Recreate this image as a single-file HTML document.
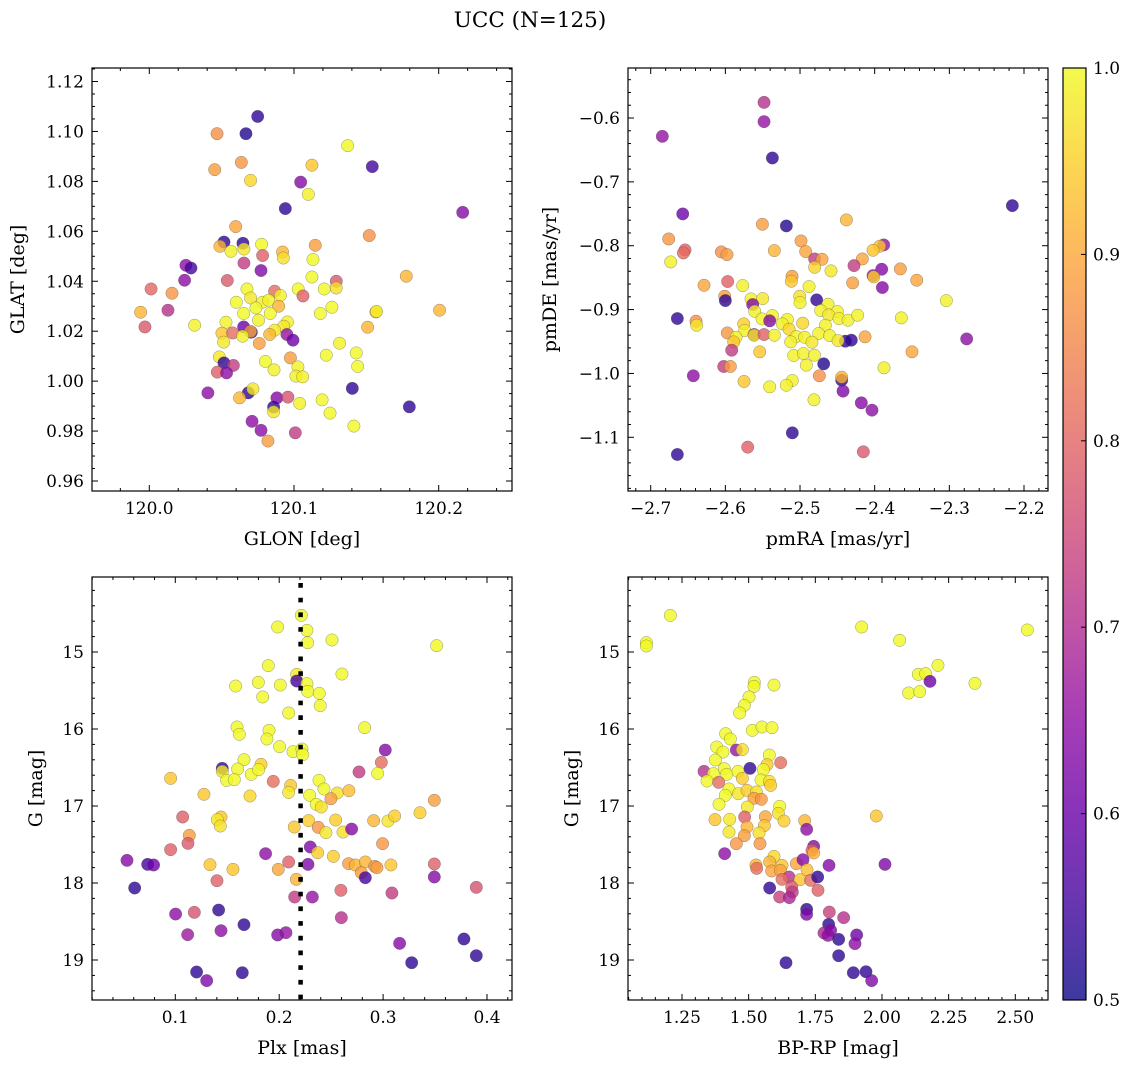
<!DOCTYPE html>
<html><head><meta charset="utf-8"><style>
body{margin:0;background:#fff;}
svg text{font-family:"DejaVu Serif","Liberation Serif",serif;fill:#000;}
</style></head><body>
<svg id="fig" width="1136" height="1067" viewBox="0 0 1136 1067" xmlns="http://www.w3.org/2000/svg">
<rect width="1136" height="1067" fill="#fff"/>
<text x="530" y="27" font-size="21.5" text-anchor="middle">UCC (N=125)</text>
<defs><linearGradient id="plasma" x1="0" y1="1" x2="0" y2="0">
<stop offset="0" stop-color="#0d0887"/><stop offset="0.1" stop-color="#41049d"/><stop offset="0.2" stop-color="#6a00a8"/><stop offset="0.3" stop-color="#8f0da4"/><stop offset="0.4" stop-color="#b12a90"/><stop offset="0.5" stop-color="#cc4778"/><stop offset="0.6" stop-color="#e16462"/><stop offset="0.7" stop-color="#f2844b"/><stop offset="0.8" stop-color="#fca636"/><stop offset="0.9" stop-color="#fcce25"/><stop offset="1" stop-color="#f0f921"/></linearGradient></defs>
<g id="cbar">
<rect x="1063" y="68" width="23" height="932" fill="url(#plasma)" opacity="0.8"/>
<rect x="1063" y="68" width="23" height="932" fill="none" stroke="#000" stroke-width="1.2"/>
</g>
</svg>
<script>
const glon=[120.0749,120.0468,120.0668,120.1371,120.0636,120.0452,120.1124,120.1541,120.0700,120.1046,120.1099,120.0940,120.2166,120.0597,120.1520,120.0516,120.0647,120.0488,120.0776,120.1147,120.0564,120.0654,120.0921,120.0926,120.0783,120.1131,120.0654,120.0253,120.0288,120.0772,120.0244,120.0539,120.1124,120.1292,120.1776,120.0012,120.0157,120.0675,120.0866,120.1029,120.1209,120.1292,120.1062,120.0906,120.0601,120.0700,120.0783,120.0825,120.0894,120.0737,120.1262,119.9940,120.0129,120.1566,120.1570,120.2006,120.0652,120.0836,120.1182,120.0755,119.9970,120.0313,120.0530,120.0954,120.0929,120.0652,120.0866,120.1509,120.0502,120.0576,120.0705,120.0700,120.0832,120.0951,120.0645,120.0993,120.0514,120.0760,120.1315,120.1223,120.1430,120.0484,120.0975,120.0516,120.0581,120.0802,120.1027,120.1440,120.0862,120.0470,120.0534,120.1013,120.1060,120.1403,120.0684,120.0716,120.0405,120.0624,120.0882,120.0958,120.1039,120.1194,120.1797,120.0859,120.0859,120.1249,120.0710,120.1414,120.0772,120.1009,120.0820];
const glat=[1.106,1.0991,1.0991,1.0943,1.0876,1.0847,1.0865,1.0859,1.0804,1.0797,1.0748,1.0691,1.0676,1.0619,1.0583,1.0557,1.0552,1.054,1.0548,1.0544,1.052,1.0529,1.0517,1.0493,1.0503,1.0487,1.0473,1.0464,1.0453,1.0443,1.0404,1.0403,1.0417,1.04,1.042,1.0369,1.0352,1.0369,1.036,1.0369,1.0369,1.0373,1.0341,1.0343,1.0316,1.0333,1.0316,1.0324,1.03,1.0293,1.0296,1.0276,1.0284,1.0277,1.0279,1.0284,1.0271,1.0271,1.0271,1.0244,1.0217,1.0224,1.0236,1.0237,1.022,1.0217,1.0204,1.0216,1.0192,1.0193,1.0196,1.0199,1.0187,1.0187,1.018,1.0164,1.0156,1.0151,1.0152,1.0104,1.0113,1.0097,1.0093,1.0073,1.0063,1.0079,1.0057,1.0059,1.0045,1.0036,1.0033,1.002,1.0017,0.9971,0.9953,0.9969,0.9953,0.9933,0.9933,0.9936,0.9911,0.9925,0.9897,0.9896,0.9877,0.9872,0.9839,0.982,0.9803,0.9793,0.976];
const prob1=[0.53,0.85,0.52,0.98,0.86,0.87,0.92,0.55,0.94,0.63,0.97,0.53,0.63,0.88,0.85,0.53,0.53,0.9,0.98,0.87,0.97,0.96,0.9,0.95,0.78,0.98,0.72,0.64,0.55,0.62,0.64,0.77,0.98,0.77,0.9,0.79,0.86,0.98,0.8,0.98,0.98,0.95,0.78,0.97,0.98,0.96,0.97,0.97,0.9,0.98,0.98,0.9,0.7,0.9,0.97,0.9,0.98,0.98,0.98,0.97,0.77,0.97,0.97,0.97,0.96,0.6,0.96,0.9,0.92,0.8,0.53,0.88,0.9,0.65,0.97,0.6,0.96,0.87,0.97,0.98,0.98,0.96,0.87,0.53,0.72,0.98,0.97,0.98,0.97,0.78,0.64,0.97,0.97,0.53,0.53,0.96,0.64,0.9,0.63,0.76,0.97,0.98,0.53,0.53,0.96,0.98,0.64,0.98,0.64,0.72,0.87];
const pmra=[-2.5482,-2.5482,-2.6844,-2.537,-2.2156,-2.6571,-2.4379,-2.5504,-2.5183,-2.6759,-2.4987,-2.3879,-2.3933,-2.4022,-2.654,-2.6562,-2.5344,-2.6054,-2.5978,-2.4924,-2.4804,-2.4705,-2.6732,-2.4165,-2.4277,-2.4804,-2.4585,-2.3906,-2.4022,-2.4013,-2.3656,-2.3437,-2.3897,-2.5107,-2.5116,-2.4295,-2.5969,-2.6286,-2.5768,-2.4879,-2.6009,-2.6,-2.5656,-2.55,-2.5004,-2.5,-2.4777,-2.304,-2.4625,-2.5634,-2.5607,-2.4723,-2.45,-2.6643,-2.6393,-2.6384,-2.5509,-2.537,-2.5406,-2.4616,-2.4478,-2.4357,-2.4228,-2.3643,-2.517,-2.5237,-2.4964,-2.4661,-2.5754,-2.5741,-2.5147,-2.5973,-2.5616,-2.5616,-2.5482,-2.5344,-2.475,-2.4603,-2.5857,-2.5888,-2.5049,-2.4938,-2.484,-2.5125,-2.4393,-2.4313,-2.4491,-2.4129,-2.5915,-2.554,-2.5085,-2.4955,-2.4808,-2.35,-2.6022,-2.5933,-2.4915,-2.4683,-2.3875,-2.2768,-2.6429,-2.4741,-2.4442,-2.4442,-2.575,-2.5103,-2.5183,-2.5406,-2.4424,-2.4813,-2.4179,-2.4036,-2.5103,-2.5701,-2.4152,-2.6643];
const pmde=[-0.5755,-0.6057,-0.6287,-0.6626,-0.7372,-0.7502,-0.7596,-0.7664,-0.769,-0.7894,-0.7925,-0.7987,-0.8008,-0.8071,-0.8066,-0.8113,-0.8076,-0.8097,-0.8139,-0.8092,-0.8207,-0.8212,-0.8254,-0.8207,-0.8311,-0.8337,-0.8394,-0.8368,-0.8467,-0.8488,-0.8363,-0.854,-0.8655,-0.8478,-0.8556,-0.8582,-0.8561,-0.8619,-0.8624,-0.864,-0.8791,-0.8859,-0.8833,-0.8828,-0.8791,-0.889,-0.8848,-0.8859,-0.8916,-0.8921,-0.9026,-0.9015,-0.9031,-0.914,-0.9182,-0.9245,-0.9146,-0.9093,-0.9176,-0.9083,-0.914,-0.9166,-0.9088,-0.913,-0.9156,-0.9224,-0.9213,-0.9245,-0.9224,-0.9328,-0.9307,-0.9365,-0.9391,-0.9401,-0.9391,-0.9401,-0.9375,-0.9407,-0.9433,-0.9506,-0.9422,-0.9433,-0.9511,-0.9506,-0.9495,-0.9479,-0.9485,-0.9427,-0.9636,-0.9662,-0.9719,-0.9688,-0.9714,-0.9662,-0.9891,-0.9891,-0.987,-0.985,-0.9912,-0.9459,-1.0037,-1.0037,-1.0105,-1.0058,-1.0126,-1.0111,-1.0184,-1.021,-1.0277,-1.0413,-1.046,-1.0575,-1.093,-1.1154,-1.1227,-1.1269];
const prob2=[0.7,0.65,0.65,0.53,0.53,0.6,0.9,0.87,0.52,0.86,0.87,0.65,0.92,0.92,0.78,0.8,0.9,0.85,0.87,0.88,0.72,0.88,0.97,0.88,0.72,0.94,0.96,0.63,0.65,0.93,0.87,0.88,0.63,0.87,0.92,0.87,0.78,0.88,0.97,0.97,0.87,0.53,0.97,0.96,0.95,0.97,0.53,0.97,0.97,0.63,0.97,0.97,0.97,0.53,0.85,0.96,0.97,0.97,0.63,0.96,0.97,0.97,0.97,0.97,0.97,0.97,0.94,0.97,0.93,0.97,0.94,0.86,0.63,0.96,0.78,0.97,0.97,0.97,0.97,0.92,0.97,0.97,0.96,0.97,0.53,0.53,0.96,0.88,0.72,0.92,0.97,0.97,0.97,0.88,0.72,0.87,0.97,0.52,0.97,0.64,0.64,0.85,0.53,0.9,0.92,0.97,0.97,0.97,0.62,0.97,0.63,0.64,0.53,0.78,0.77,0.53];
const plx=[0.2213,0.1985,0.2267,0.2274,0.2508,0.3515,0.1895,0.2604,0.2168,0.2168,0.2267,0.1581,0.1799,0.2011,0.2274,0.2386,0.1841,0.2395,0.2091,0.1594,0.1616,0.1902,0.1882,0.2822,0.2004,0.2133,0.2219,0.2226,0.3021,0.2983,0.1661,0.1825,0.1452,0.1452,0.16,0.1731,0.1802,0.2768,0.2948,0.0955,0.1494,0.1568,0.1943,0.211,0.2091,0.2383,0.2431,0.2559,0.2671,0.1276,0.1719,0.2293,0.2498,0.2357,0.2405,0.3493,0.1071,0.144,0.1404,0.1433,0.2283,0.2543,0.2909,0.3047,0.3111,0.3355,0.2145,0.2376,0.245,0.2614,0.2697,0.1135,0.1122,0.0955,0.2995,0.2299,0.237,0.2521,0.1869,0.0535,0.0734,0.0791,0.1334,0.1555,0.2091,0.1991,0.2277,0.2668,0.2732,0.2829,0.2919,0.2941,0.3075,0.279,0.2829,0.3493,0.3493,0.1401,0.2165,0.0609,0.2594,0.2149,0.2319,0.3085,0.3897,0.1003,0.1183,0.1417,0.2598,0.1661,0.1119,0.144,0.1985,0.2065,0.3159,0.3778,0.3897,0.3275,0.1205,0.1645,0.1302];
const gmag3=[14.524,14.675,14.719,14.879,14.844,14.918,15.177,15.286,15.29,15.377,15.411,15.442,15.394,15.429,15.511,15.537,15.584,15.697,15.792,15.974,16.069,16.017,16.13,15.983,16.229,16.294,16.26,16.333,16.273,16.433,16.398,16.459,16.511,16.55,16.519,16.589,16.528,16.558,16.576,16.641,16.667,16.658,16.68,16.732,16.823,16.667,16.779,16.831,16.801,16.848,16.87,16.861,16.905,16.978,17.013,16.926,17.143,17.143,17.177,17.26,17.19,17.182,17.19,17.195,17.13,17.087,17.273,17.277,17.346,17.338,17.299,17.381,17.485,17.567,17.489,17.532,17.606,17.654,17.619,17.706,17.758,17.766,17.762,17.823,17.727,17.823,17.758,17.749,17.766,17.727,17.784,17.801,17.766,17.866,17.931,17.753,17.922,17.97,17.952,18.065,18.095,18.182,18.182,18.13,18.056,18.403,18.381,18.351,18.45,18.541,18.671,18.619,18.675,18.645,18.784,18.727,18.944,19.035,19.156,19.165,19.268];
const prob3=[0.98,0.98,0.98,0.98,0.98,0.98,0.98,0.98,0.96,0.55,0.98,0.98,0.98,0.98,0.98,0.98,0.98,0.98,0.98,0.98,0.98,0.98,0.98,0.98,0.98,0.98,0.98,0.98,0.63,0.8,0.98,0.93,0.53,0.96,0.98,0.98,0.98,0.72,0.98,0.92,0.98,0.98,0.8,0.92,0.96,0.98,0.98,0.95,0.91,0.92,0.94,0.98,0.87,0.98,0.95,0.87,0.78,0.92,0.96,0.95,0.93,0.93,0.9,0.96,0.93,0.93,0.92,0.86,0.96,0.95,0.63,0.87,0.77,0.78,0.86,0.62,0.93,0.93,0.64,0.63,0.55,0.6,0.92,0.92,0.78,0.88,0.62,0.87,0.9,0.9,0.86,0.87,0.92,0.87,0.55,0.78,0.63,0.78,0.9,0.53,0.78,0.72,0.65,0.72,0.76,0.64,0.76,0.53,0.7,0.53,0.66,0.64,0.63,0.65,0.63,0.53,0.53,0.53,0.53,0.53,0.62];
const bprp=[1.2063,1.1163,1.1163,1.9238,2.0663,2.545,2.21,2.1363,2.1638,2.18,2.1,2.1413,2.3488,1.5213,1.52,1.595,1.5013,1.4838,1.4663,1.5138,1.55,1.5875,1.4138,1.4313,1.38,1.4038,1.4538,1.4763,1.375,1.5775,1.5688,1.62,1.505,1.3325,1.3675,1.4088,1.4175,1.46,1.555,1.3438,1.3875,1.4763,1.5463,1.5775,1.5825,1.4263,1.4125,1.4613,1.4938,1.5288,1.52,1.5475,1.3888,1.495,1.6163,1.6113,1.6325,1.3738,1.4288,1.485,1.5625,1.4938,1.5588,1.4263,1.4838,1.5388,1.4538,1.5425,1.9788,1.71,1.7175,1.41,1.7438,1.7375,1.7438,1.595,1.5275,1.53,1.5788,1.625,1.5863,1.6788,1.7038,1.7188,1.8013,2.0113,1.6188,1.6513,1.625,1.6925,1.7325,1.7588,1.5788,1.76,1.6613,1.6638,1.6163,1.6525,1.7175,1.7175,1.8025,1.8563,1.8,1.7825,1.8075,1.7975,1.8375,1.905,1.8988,1.8375,1.64,1.8925,1.94,1.9613];
const gmag4=[14.524,14.879,14.922,14.675,14.848,14.714,15.173,15.29,15.281,15.381,15.532,15.515,15.407,15.394,15.446,15.429,15.584,15.693,15.792,16.017,15.974,15.983,16.061,16.13,16.234,16.299,16.273,16.268,16.403,16.338,16.463,16.437,16.511,16.55,16.58,16.515,16.589,16.55,16.528,16.675,16.693,16.641,16.662,16.68,16.732,16.779,16.861,16.84,16.797,16.818,16.9,16.913,16.978,17.013,17.004,17.095,17.195,17.177,17.173,17.143,17.139,17.273,17.255,17.338,17.385,17.351,17.489,17.489,17.13,17.19,17.303,17.619,17.524,17.576,17.61,17.654,17.766,17.81,17.727,17.771,17.844,17.749,17.697,17.827,17.771,17.758,17.835,17.922,17.952,17.957,17.965,17.922,18.065,18.095,18.052,18.117,18.182,18.19,18.342,18.407,18.377,18.45,18.537,18.649,18.615,18.68,18.732,18.675,18.788,18.944,19.035,19.165,19.152,19.268];
const prob4=[0.98,0.98,0.98,0.98,0.98,0.98,0.98,0.98,0.98,0.6,0.98,0.98,0.98,0.98,0.98,0.98,0.98,0.98,0.98,0.98,0.98,0.98,0.98,0.98,0.98,0.98,0.65,0.95,0.98,0.98,0.93,0.8,0.53,0.7,0.98,0.98,0.98,0.98,0.98,0.98,0.8,0.93,0.98,0.95,0.93,0.98,0.98,0.96,0.93,0.95,0.87,0.86,0.98,0.96,0.98,0.95,0.93,0.92,0.96,0.78,0.88,0.9,0.92,0.96,0.87,0.95,0.86,0.86,0.92,0.9,0.64,0.64,0.63,0.78,0.9,0.94,0.9,0.8,0.9,0.92,0.88,0.88,0.63,0.91,0.63,0.62,0.88,0.7,0.8,0.92,0.8,0.53,0.53,0.78,0.77,0.72,0.73,0.68,0.53,0.62,0.73,0.7,0.53,0.68,0.63,0.64,0.53,0.6,0.64,0.53,0.53,0.53,0.53,0.62];
const plxMean=0.2206;
const cbarTicks=[0.5,0.6,0.7,0.8,0.9,1.0];

const NS='http://www.w3.org/2000/svg';
const svg=document.getElementById('fig');
function el(tag,attrs,parent){const e=document.createElementNS(NS,tag);for(const k in attrs)e.setAttribute(k,attrs[k]);(parent||svg).appendChild(e);return e;}
const stops=[[13,8,135],[65,4,157],[106,0,168],[143,13,164],[177,42,144],[204,71,120],[225,100,98],[242,132,75],[252,166,54],[252,206,37],[240,249,33]];
function plasma(v){let t=Math.max(0,Math.min(1,(v-0.5)/0.48))*10;let i=Math.min(9,Math.floor(t));let f=t-i;const a=stops[i],b=stops[i+1];return 'rgb('+a.map((x,k)=>Math.round(x+(b[k]-x)*f)).join(',')+')';}
function lin(v1,p1,v2,p2){const s=(p2-p1)/(v2-v1);const f=v=>p1+(v-v1)*s;f.inv=p=>v1+(p-p1)/s;return f;}
function fmt(v,d){return (v<0?'\u2212':'')+Math.abs(v).toFixed(d);}

function panel(cfg){
  const g=el('g',{});
  
  
  const {x0,x1,y0,y1,sx,sy}=cfg;
  const pg=el('g',{},g);
  
  
  const n=Math.min(cfg.xs.length,cfg.ys.length,cfg.cs.length);
  for(let i=0;i<n;i++){
    const c=el('circle',{cx:sx(cfg.xs[i]),cy:sy(cfg.ys[i]),r:6.2,fill:plasma(cfg.cs[i]),'fill-opacity':0.8,stroke:'#444','stroke-opacity':0.55,'stroke-width':0.5},pg);
    
    
  }
  if(cfg.vline!==undefined){
    const l=el('line',{x1:sx(cfg.vline),x2:sx(cfg.vline),y1:y0+6,y2:y1,stroke:'#000','stroke-width':4.5,'stroke-dasharray':'4.7 10'},g);
    
    
  }
  const tg=el('g',{stroke:'#000','stroke-width':1},g);
  function ticksAxis(scale,lo,hi,step,nmin,horiz,labD){
    const vlo=Math.min(scale.inv(lo),scale.inv(hi)),vhi=Math.max(scale.inv(lo),scale.inv(hi));
    const ms=step/nmin;
    for(let k=Math.ceil(vlo/ms-1e-6);k*ms<=vhi+1e-9;k++){
      const v=k*ms;const p=scale(v);const major=Math.abs(k%nmin)<1e-9;const L=major?6:3;
      if(horiz){el('line',{x1:p,x2:p,y1:y1,y2:y1-L},tg);el('line',{x1:p,x2:p,y1:y0,y2:y0+L},tg);}
      else{el('line',{x1:x0,x2:x0+L,y1:p,y2:p},tg);el('line',{x1:x1,x2:x1-L,y1:p,y2:p},tg);}
      if(major){
        const t=horiz?el('text',{x:p,y:y1+23,'font-size':17,'text-anchor':'middle'},g):el('text',{x:x0-8,y:p+6,'font-size':17,'text-anchor':'end'},g);
        t.textContent=fmt(v,labD);
        
        
      }
    }
  }
  ticksAxis(sx,x0,x1,cfg.xstep,cfg.xmin,true,cfg.xd);
  ticksAxis(sy,y0,y1,cfg.ystep,cfg.ymin,false,cfg.yd);
  const fr=el('rect',{x:x0,y:y0,width:x1-x0,height:y1-y0,fill:'none',stroke:'#000','stroke-width':1.2},g);
  
  
  const xl=el('text',{x:(x0+x1)/2,y:y1+54,'font-size':19,'text-anchor':'middle'},g);
  xl.textContent=cfg.xlabel;
  
  
  const yl=el('text',{x:cfg.ylx,y:(y0+y1)/2,'font-size':19,'text-anchor':'middle',transform:'rotate(-90 '+cfg.ylx+' '+(y0+y1)/2+')'},g);
  yl.textContent=cfg.ylabel;
  
  
}
panel({name:'glon-glat-panel',x0:92,x1:512,y0:68,y1:491,sx:lin(120.0,149.3,120.2,438.7),sy:lin(1.12,81.5,0.96,481),xs:glon,ys:glat,cs:prob1,xstep:0.1,xmin:5,ystep:0.02,ymin:4,xd:1,yd:2,xlabel:'GLON [deg]',ylabel:'GLAT [deg]',ylx:24});
panel({name:'pm-panel',x0:628,x1:1048,y0:68,y1:491,sx:lin(-2.7,650.7,-2.2,1024),sy:lin(-0.6,118,-1.1,437.3),xs:pmra,ys:pmde,cs:prob2,xstep:0.1,xmin:5,ystep:0.1,ymin:5,xd:1,yd:1,xlabel:'pmRA [mas/yr]',ylabel:'pmDE [mas/yr]',ylx:556});
panel({name:'plx-g-panel',x0:92,x1:512,y0:577,y1:1000,sx:lin(0.1,175.3,0.4,487),sy:lin(15,652,19,960),xs:plx,ys:gmag3,cs:prob3,xstep:0.1,xmin:5,ystep:1,ymin:5,xd:1,yd:0,xlabel:'Plx [mas]',ylabel:'G [mag]',ylx:42,vline:plxMean});
panel({name:'cmd-panel',x0:628,x1:1048,y0:577,y1:1000,sx:lin(1.25,682,2.5,1015.3),sy:lin(15,652,19,960),xs:bprp,ys:gmag4,cs:prob4,xstep:0.25,xmin:5,ystep:1,ymin:5,xd:2,yd:0,xlabel:'BP-RP [mag]',ylabel:'G [mag]',ylx:578});
const cs=lin(0.5,1000,1.0,68);
const cg=document.getElementById('cbar');
cbarTicks.forEach(v=>{
  el('line',{x1:1086,x2:1081,y1:cs(v),y2:cs(v),stroke:'#000','stroke-width':1},cg);
  const t=el('text',{x:1093,y:cs(v)+6,'font-size':17},cg);
  t.textContent=v.toFixed(1);
  
  
});
</script>
</body></html>
